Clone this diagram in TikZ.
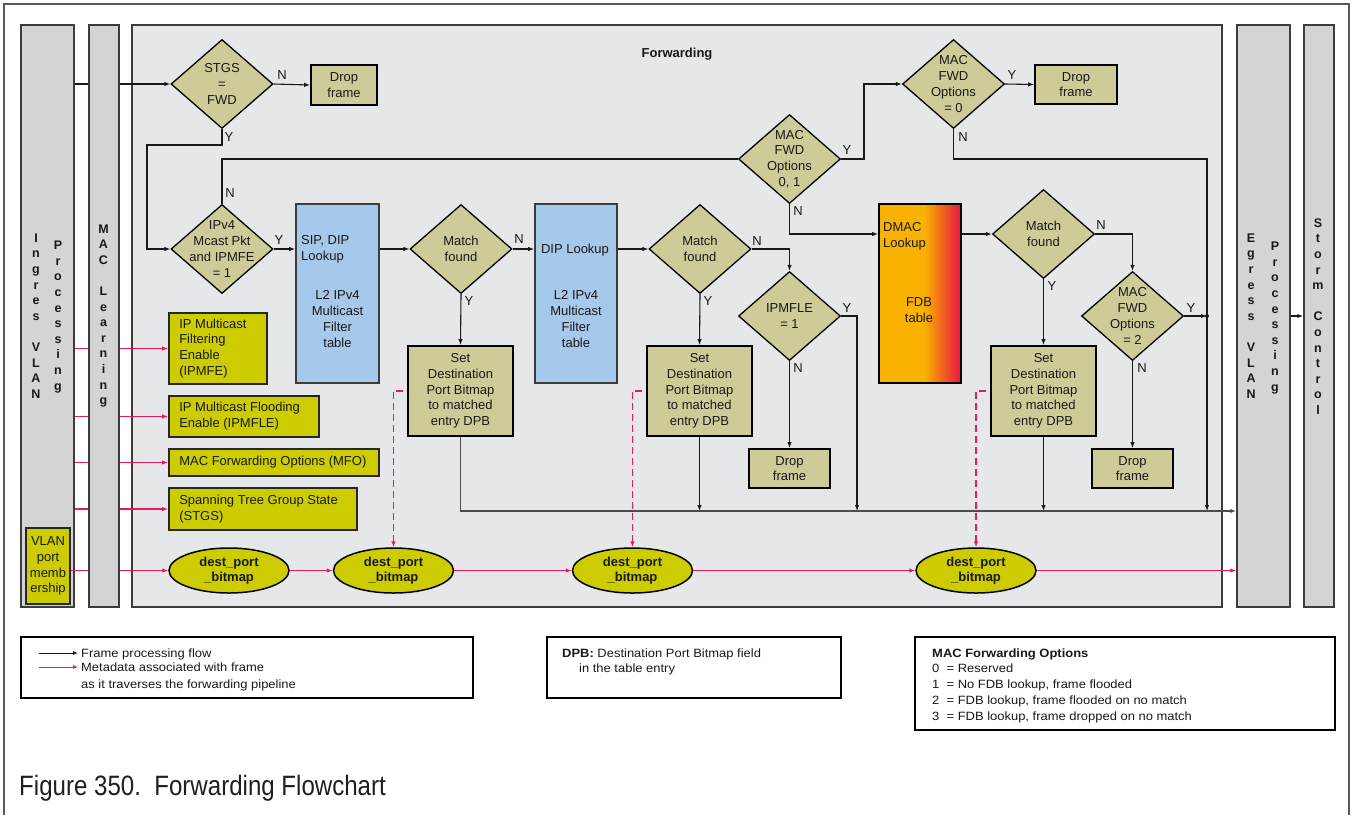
\documentclass[tikz,border=0pt]{standalone}
\usepackage{fontspec}
\setmainfont{Liberation Sans}
\newfontfamily\legendfont[FakeStretch=1.08]{Liberation Sans}
\newfontfamily\capfont[FakeStretch=0.86]{Liberation Sans}
\usetikzlibrary{arrows.meta,shapes.geometric,calc}

\definecolor{panelgray}{RGB}{230,231,233}
\definecolor{colgray}{RGB}{211,212,214}
\definecolor{edgegray}{RGB}{60,60,60}
\definecolor{khaki}{RGB}{205,204,152}
\definecolor{lime}{RGB}{204,204,0}
\definecolor{lookupblue}{RGB}{166,200,234}
\definecolor{fdborange}{RGB}{250,178,0}
\definecolor{fdbred}{RGB}{232,24,64}
\definecolor{metapink}{RGB}{230,25,95}
\definecolor{ink}{RGB}{25,25,25}

\begin{document}
\begin{tikzpicture}[x=1pt,y=-1pt,
  every node/.style={font=\fontsize{13}{15.8}\selectfont, text=ink},
  colbox/.style={draw=edgegray, line width=1.5pt, fill=colgray, minimum width=#1, minimum height=582pt, inner sep=0pt},
  vlabel/.style={font=\bfseries\fontsize{12.5}{15.6}\selectfont, align=center, inner sep=0pt},
  dec/.style={diamond, draw=black, line width=1.3pt, fill=khaki, minimum width=102pt, minimum height=89pt, inner sep=0pt},
  dectext/.style={align=center, inner sep=0pt},
  procbox/.style={draw=black, line width=1.8pt, fill=khaki, inner sep=0pt, align=center},
  lookupbox/.style={draw=edgegray, line width=1.8pt, fill=lookupblue, minimum width=83pt, minimum height=179pt, inner sep=0pt},
  metabox/.style={draw=black!85, line width=1.8pt, fill=lime, inner sep=0pt},
  metatext/.style={anchor=west, align=left, inner sep=0pt},
  bmell/.style={ellipse, draw=black, line width=1.5pt, fill=lime, minimum width=120pt, minimum height=45pt, inner sep=0pt, align=center, font=\bfseries\fontsize{13}{15}\selectfont},
  tip/.style={-{Latex[length=6pt,width=4.5pt]}},
  flowarrow/.style={draw=ink, line width=1.1pt, tip},
  flowline/.style={draw=ink, line width=1.1pt},
  busline/.style={draw=black!70, line width=1.5pt, tip},
  mdarrow/.style={draw=metapink, line width=1.1pt, tip},
  mdline/.style={draw=metapink, line width=1.1pt},
  mddash/.style={mdarrow, dash pattern=on 7pt off 4pt, dash phase=7pt},
  yn/.style={inner sep=0pt, font=\fontsize{13}{15}\selectfont},
  legbox/.style={draw=black, line width=1.5pt, inner sep=0pt},
  legtext/.style={anchor=base west, inner sep=0pt, font=\legendfont\fontsize{12}{15}\selectfont}
]
\useasboundingbox (0,0) rectangle (1352,815);

% page frame
\draw[draw=black!65, line width=2.2pt] (4,815) -- (4,4) -- (1349,4) -- (1349,815);

% pipeline stages
\node[colbox=53pt] (ingress) at (47.5,316) {};
\node[colbox=30pt] (maclearn) at (104,316) {};
\node[draw=edgegray, line width=1.8pt, fill=panelgray, minimum width=1090pt, minimum height=582pt, inner sep=0pt] (fwd) at (677,316) {};
\node[colbox=53pt] (egress) at (1263.5,316) {};
\node[colbox=30pt] (storm) at (1319,316) {};

\node[vlabel] (ingA) at (36,316) {I\\n\\g\\r\\e\\s\\[15.6pt]V\\L\\A\\N};
\node[vlabel] (ingB) at (58,317) {P\\r\\o\\c\\e\\s\\s\\i\\n\\g};
\node[vlabel] (macA) at (103.5,316) {M\\A\\C\\[15.6pt]L\\e\\a\\r\\n\\i\\n\\g};
\node[vlabel] (egrA) at (1251,316) {E\\g\\r\\e\\s\\s\\[15.6pt]V\\L\\A\\N};
\node[vlabel] (egrB) at (1275,318) {P\\r\\o\\c\\e\\s\\s\\i\\n\\g};
\node[vlabel] (stmA) at (1318,316.5) {S\\t\\o\\r\\m\\[15.6pt]C\\o\\n\\t\\r\\o\\l};

\node[metabox, minimum width=44pt, minimum height=76pt, align=center] (vlanpm) at (48,566) {VLAN\\port\\memb\\ership};

\node[font=\bfseries\fontsize{13}{15}\selectfont] (fwdtitle) at (677,54) {Forwarding};

% decisions
\node[dec, label={[dectext]center:STGS\\=\\FWD}] (stgs) at (222,84) {};
\node[dec, label={[dectext]center:IPv4\\Mcast Pkt\\and IPMFE\\= 1}] (ipv4) at (222,249) {};
\node[dec, label={[dectext]center:Match\\found}] (match1) at (461,249) {};
\node[dec, label={[dectext]center:Match\\found}] (match2) at (700,249) {};
\node[dec, label={[dectext]center:IPMFLE\\= 1}] (ipmfle) at (789.5,316) {};
\node[dec, label={[dectext]center:MAC\\FWD\\Options\\0, 1}] (macfwd01) at (789.5,159) {};
\node[dec, label={[dectext]center:MAC\\FWD\\Options\\= 0}] (macfwd0) at (953.5,84) {};
\node[dec, label={[dectext]center:Match\\found}] (match3) at (1043.5,234) {};
\node[dec, label={[dectext]center:MAC\\FWD\\Options\\= 2}] (macfwd2) at (1132.5,316) {};

% actions
\node[procbox, minimum width=66pt, minimum height=40pt] (drop1) at (344,85) {Drop\\frame};
\node[procbox, minimum width=81pt, minimum height=39pt] (drop2) at (789.5,468.5) {Drop\\frame};
\node[procbox, minimum width=82pt, minimum height=39pt] (drop3) at (1076,84.5) {Drop\\frame};
\node[procbox, minimum width=81pt, minimum height=39pt] (drop4) at (1132.5,468.5) {Drop\\frame};
\node[procbox, minimum width=105pt, minimum height=90pt] (set1) at (460.5,391) {Set\\Destination\\Port Bitmap\\to matched\\entry DPB};
\node[procbox, minimum width=105pt, minimum height=90pt] (set2) at (699.5,391) {Set\\Destination\\Port Bitmap\\to matched\\entry DPB};
\node[procbox, minimum width=105pt, minimum height=90pt] (set3) at (1043.5,391) {Set\\Destination\\Port Bitmap\\to matched\\entry DPB};

% lookup tables
\node[lookupbox] (sip) at (337.5,293.5) {};
\node[anchor=north west, align=left, inner sep=0pt] (siptxt) at (301,235.5) {SIP, DIP\\Lookup};
\node[align=center, inner sep=0pt] (siptab) at (337.5,319) {L2 IPv4\\Multicast\\Filter\\table};
\node[lookupbox, minimum width=82pt] (dip) at (576,293.5) {};
\node[inner sep=0pt] (diptxt) at (575,250) {DIP Lookup};
\node[align=center, inner sep=0pt] (diptab) at (576,319) {L2 IPv4\\Multicast\\Filter\\table};

% FDB table: flat orange, blending into red towards the right edge
\fill[fdborange] (879,204) rectangle (961,383);
\foreach \i in {0,...,36} {
  \pgfmathsetmacro\mixred{\i*100/36}
  \fill[fdbred!\mixred!fdborange] (924+\i,204) rectangle (925.3+\i,383);
}
\node[draw=black, line width=1.8pt, minimum width=82pt, minimum height=179pt, inner sep=0pt] (dmac) at (920,293.5) {};
\node[anchor=north west, align=left, inner sep=0pt] (dmactxt) at (883,222) {DMAC\\Lookup};
\node[align=center, inner sep=0pt] (fdbtxt) at (919,310) {FDB\\table};

% frame metadata
\node[metabox, minimum width=98pt, minimum height=71pt] (ipmfe) at (218,348.5) {};
\node[metatext] (ipmfetxt) at ($(ipmfe.west)+(11,0)$) {IP Multicast\\Filtering\\Enable\\(IPMFE)};
\node[metabox, minimum width=150pt, minimum height=41pt] (ipmflebox) at (244,416.5) {};
\node[metatext] (ipmfletxt) at ($(ipmflebox.west)+(11,0)$) {IP Multicast Flooding\\Enable (IPMFLE)};
\node[metabox, minimum width=210pt, minimum height=27pt] (mfo) at (274,462.5) {};
\node[metatext] (mfotxt) at ($(mfo.west)+(11,0)$) {MAC Forwarding Options (MFO)};
\node[metabox, minimum width=188pt, minimum height=42pt] (stgsbox) at (263,509) {};
\node[metatext] (stgstxt) at ($(stgsbox.west)+(11,0)$) {Spanning Tree Group State\\(STGS)};

\node[bmell] (dpb1) at (229,570.5) {dest\_port\\\_bitmap};
\node[bmell] (dpb2) at (393.5,570.5) {dest\_port\\\_bitmap};
\node[bmell] (dpb3) at (632.5,570.5) {dest\_port\\\_bitmap};
\node[bmell] (dpb4) at (976,570.5) {dest\_port\\\_bitmap};

% Y / N labels
\node[yn] (n1) at (282,75) {N};   \node[yn] (y1) at (229,137) {Y};
\node[yn] (n2) at (230,193) {N};  \node[yn] (y2) at (279,240) {Y};
\node[yn] (n3) at (519,239) {N};  \node[yn] (y3) at (469,301) {Y};
\node[yn] (n4) at (757,241) {N};  \node[yn] (y4) at (708,301) {Y};
\node[yn] (y5) at (847,308) {Y};  \node[yn] (n5) at (798,368) {N};
\node[yn] (y6) at (847,150) {Y};  \node[yn] (n6) at (798,211) {N};
\node[yn] (y7) at (1012,75) {Y};  \node[yn] (n7) at (963,137) {N};
\node[yn] (n8) at (1101,225) {N}; \node[yn] (y8) at (1052,286) {Y};
\node[yn] (y9) at (1191,308) {Y}; \node[yn] (n9) at (1142,368) {N};

% routing helpers
\coordinate (busy) at (0,511);
\coordinate (rail) at (1207,0);
\coordinate (ipmrail) at (857,0);
\coordinate (stgsbendA) at (222,145);
\coordinate (stgsbendB) at (147,145);
\coordinate (yturn) at (864,0);

% frame processing flow
\draw[flowline] (ingress.east |- stgs.west) -- (maclearn.west |- stgs.west);
\draw[flowarrow] (maclearn.east |- stgs.west) -- (stgs.west);
\draw[flowarrow] (stgs.east) -- (drop1.west);
\draw[flowarrow] (stgs.south) -- (stgsbendA) -- (stgsbendB) |- (ipv4.west);
\draw[flowline] (ipv4.north) |- (macfwd01.west);
\draw[flowarrow] (ipv4.east) -- (ipv4.east -| sip.west);
\draw[flowarrow] (sip.east |- match1.west) -- (match1.west);
\draw[flowarrow] (match1.east) -- (match1.east -| dip.west);
\draw[flowarrow] (match1.south) -- (set1.north);
\draw[flowarrow] (dip.east |- match2.west) -- (match2.west);
\draw[flowarrow] (match2.east) -| (ipmfle.north);
\draw[flowarrow] (match2.south) -- (set2.north);
\draw[flowarrow] (ipmfle.south) -- (drop2.north);
\draw[flowarrow] (macfwd01.east) -| (yturn |- macfwd0.west) -- (macfwd0.west);
\draw[flowarrow] (macfwd01.south) |- (dmac.west |- match3.west);
\draw[flowarrow] (macfwd0.east) -- (drop3.west);
\draw[flowarrow] (dmac.east |- match3.west) -- (match3.west);
\draw[flowarrow] (match3.east) -| (macfwd2.north);
\draw[flowarrow] (match3.south) -- (set3.north);
\draw[flowarrow] (macfwd2.south) -- (drop4.north);

% paths to egress
\draw[busline] (set1.south) |- (egress.west |- busy);
\draw[flowarrow] (set2.south) -- (set2.south |- busy);
\draw[flowarrow] (ipmfle.east) -| (ipmrail |- busy);
\draw[flowarrow] (set3.south) -- (set3.south |- busy);
\draw[flowarrow] (macfwd0.south) |- (rail |- macfwd01.east) -- (rail |- busy);
\draw[flowarrow] (macfwd2.east) -- (rail |- macfwd2.east);
\fill[ink] (rail |- macfwd2.east) circle (2pt);
\draw[flowarrow] (egress.east |- macfwd2.east) -- (storm.west |- macfwd2.east);

% metadata flow
\foreach \b in {ipmfe,ipmflebox,mfo,stgsbox} {
  \draw[mdline] (ingress.east |- \b.west) -- (maclearn.west |- \b.west);
  \draw[mdarrow] (maclearn.east |- \b.west) -- (\b.west);
}
\draw[mdline] (vlanpm.east |- dpb1.west) -- (maclearn.west |- dpb1.west);
\draw[mdarrow] (maclearn.east |- dpb1.west) -- (dpb1.west);
\draw[mdarrow] (dpb1.east) -- (dpb2.west);
\draw[mdarrow] (dpb2.east) -- (dpb3.west);
\draw[mdarrow] (dpb3.east) -- (dpb4.west);
\draw[mdarrow] (dpb4.east) -- (egress.west |- dpb4.east);
\draw[mddash] (set1.west) -| (dpb2.north);
\draw[mddash] (set2.west) -| (dpb3.north);
\draw[mddash] (set3.west) -| (dpb4.north);

% legends
\node[legbox, minimum width=452pt, minimum height=61pt] (legflow) at (247,667.5) {};
\coordinate (lfa) at (39,653); \coordinate (lfb) at (78,653);
\coordinate (lma) at (39,667); \coordinate (lmb) at (78,667);
\draw[draw=ink, line width=0.9pt, -{Latex[length=5pt,width=4pt]}] (lfa) -- (lfb);
\draw[draw=metapink, line width=0.9pt, -{Latex[length=5pt,width=4pt]}] (lma) -- (lmb);
\node[legtext] (lt1) at (81,657) {Frame processing flow};
\node[legtext] (lt2) at (81,671.5) {Metadata associated with frame};
\node[legtext] (lt3) at (81,688) {as it traverses the forwarding pipeline};

\node[legbox, minimum width=294pt, minimum height=61pt] (legdpb) at (694,667.5) {};
\node[legtext] (ld1) at (562,657) {\textbf{DPB:} Destination Port Bitmap field};
\node[legtext] (ld2) at (579,672) {in the table entry};

\node[legbox, minimum width=420pt, minimum height=93pt] (legmfo) at (1125,683.5) {};
\node[legtext] (lm0) at (932,657) {\textbf{MAC Forwarding Options}};
\node[legtext] (lm1) at (932,672) {0\ \ = Reserved};
\node[legtext] (lm2) at (932,688) {1\ \ = No FDB lookup, frame flooded};
\node[legtext] (lm3) at (932,704) {2\ \ = FDB lookup, frame flooded on no match};
\node[legtext] (lm4) at (932,720) {3\ \ = FDB lookup, frame dropped on no match};

% caption
\node[anchor=base west, inner sep=0pt, font=\capfont\fontsize{28}{30}\selectfont, text=black!88] (caption) at (19,795) {Figure 350.\ \ Forwarding Flowchart};
\end{tikzpicture}
\end{document}
